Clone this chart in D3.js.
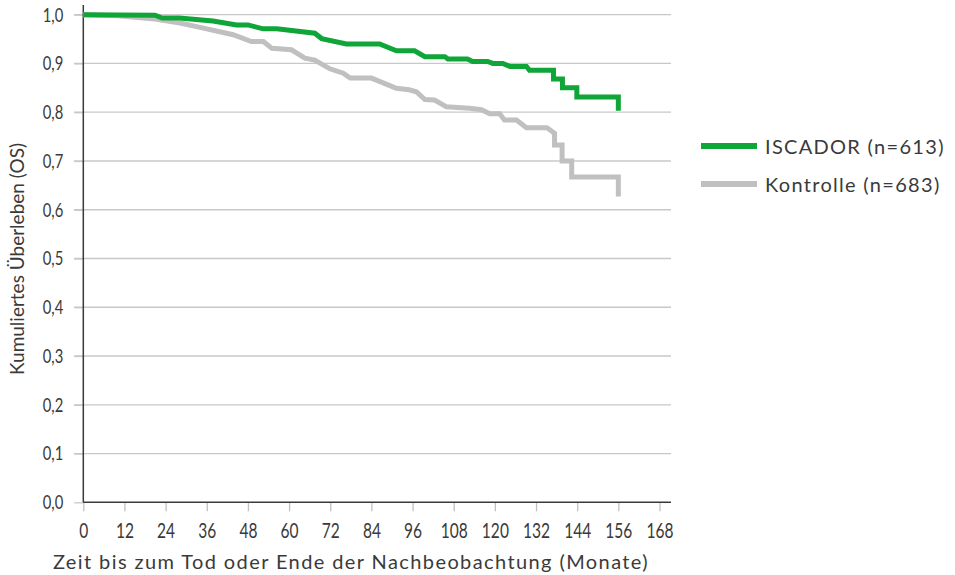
<!DOCTYPE html>
<html>
<head>
<meta charset="utf-8">
<script src="https://cdn.jsdelivr.net/npm/d3@7"></script>
<style>
  body { margin: 0; background: #fff; }
  svg { display: block; }
</style>
</head>
<body>
<script>
// Kaplan-Meier curves: [month, cumulative survival]
const iscador = [
  [0, 1.0], [20.9, 0.999], [23, 0.993], [28, 0.993], [37.8, 0.987], [44.7, 0.979],
  [48, 0.979], [52.4, 0.971], [56.4, 0.971], [67.5, 0.962], [69.5, 0.951], [76.7, 0.940],
  [86.4, 0.940], [91.3, 0.926], [96.6, 0.926], [99.6, 0.914], [105.4, 0.914], [106.3, 0.909],
  [112, 0.909], [113.5, 0.904], [117.9, 0.904], [119.4, 0.900], [122.3, 0.900], [124.4, 0.894],
  [129.2, 0.894], [130.1, 0.886], [137.1, 0.886], [137.1, 0.868], [139.7, 0.868], [139.7, 0.850],
  [143.9, 0.850], [143.9, 0.831], [156, 0.831], [156, 0.803]
];
const kontrolle = [
  [0, 1.0], [10, 0.998], [20.9, 0.991], [28.2, 0.983], [34, 0.974], [43.7, 0.959],
  [49, 0.945], [52.5, 0.945], [55, 0.931], [60.7, 0.928], [64.6, 0.911], [67.5, 0.907],
  [71.9, 0.889], [75.8, 0.880], [77.8, 0.870], [84, 0.870], [91.3, 0.849], [95, 0.846],
  [97.1, 0.842], [99.6, 0.826], [102.4, 0.825], [105.9, 0.811], [112.6, 0.808], [116.1, 0.805],
  [118.5, 0.797], [121.4, 0.797], [122.8, 0.784], [126.3, 0.784], [129.2, 0.768], [135.2, 0.768],
  [137.4, 0.757], [137.4, 0.733], [139.6, 0.733], [139.6, 0.700], [142.4, 0.700], [142.4, 0.667],
  [156, 0.667], [156, 0.627]
];
const seriesNames = ["ISCADOR (n=613)", "Kontrolle (n=683)"];
const xTicks = d3.range(0, 169, 12);
const yTicks = d3.range(0, 11).map(i => i / 10);

const width = 955, height = 575;
const svg = d3.select("body").append("svg")
  .attr("width", width)
  .attr("height", height);

const x = d3.scaleLinear().domain([0, 168]).range([83.3, 659.5]);
const y = d3.scaleLinear().domain([0, 1]).range([502.3, 14.7]);
const color = d3.scaleOrdinal().domain(seriesNames).range(["#10a538", "#c0c0c0"]);

const tickFont = "Lato, sans-serif";
const textFont = "Lato, 'Noto Sans', sans-serif";
const squeeze = 0.74; // tick numbers are set in a condensed face

// horizontal grid lines (they also act as the y ticks)
svg.append("g")
  .selectAll("line")
  .data(yTicks.slice(1))
  .join("line")
  .attr("x1", 74).attr("x2", 671)
  .attr("y1", d => y(d)).attr("y2", d => y(d))
  .attr("stroke", "#c8c8c8")
  .attr("stroke-width", 1.3);

// y axis
const yAxis = svg.append("g")
  .attr("transform", `translate(${x(0)},0)`)
  .call(d3.axisLeft(y).tickValues(yTicks).tickFormat(d => d3.format(".1f")(d).replace(".", ","))
    .tickSize(9).tickPadding(11));
yAxis.select(".domain").remove();
yAxis.selectAll(".tick line").attr("stroke", "#c8c8c8").attr("stroke-width", 1.3);
yAxis.selectAll("text")
  .attr("font-family", tickFont).attr("font-size", 20).attr("fill", "#3a3a3a")
  .attr("x", -20 / squeeze)
  .attr("transform", `scale(${squeeze},1)`);
svg.append("line")
  .attr("x1", x(0)).attr("x2", x(0)).attr("y1", 5).attr("y2", y(0))
  .attr("stroke", "#3a3a3a").attr("stroke-width", 1.5);

// x axis
const xAxis = svg.append("g")
  .attr("transform", `translate(0,${y(0)})`)
  .call(d3.axisBottom(x).tickValues(xTicks).tickSize(9).tickPadding(12));
xAxis.select(".domain").remove();
xAxis.selectAll(".tick line").attr("stroke", "#c0c0c0").attr("stroke-width", 1.3);
xAxis.selectAll("text")
  .attr("font-family", tickFont).attr("font-size", 21).attr("fill", "#3a3a3a")
  .attr("transform", `scale(${squeeze},1)`);
svg.append("line")
  .attr("x1", x(0)).attr("x2", 671).attr("y1", y(0)).attr("y2", y(0))
  .attr("stroke", "#3a3a3a").attr("stroke-width", 1.5);

// curves
const line = d3.line().x(d => x(d[0])).y(d => y(d[1]));
svg.append("path")
  .datum(kontrolle)
  .attr("d", line)
  .attr("fill", "none")
  .attr("stroke", color(seriesNames[1]))
  .attr("stroke-width", 5);
svg.append("path")
  .datum(iscador)
  .attr("d", line)
  .attr("fill", "none")
  .attr("stroke", color(seriesNames[0]))
  .attr("stroke-width", 5);

// axis titles
svg.append("text")
  .attr("x", 351).attr("y", 569)
  .attr("text-anchor", "middle")
  .attr("font-family", textFont).attr("font-size", 20).attr("fill", "#3a3a3a")
  .attr("letter-spacing", 1.4)
  .text("Zeit bis zum Tod oder Ende der Nachbeobachtung (Monate)");
svg.append("text")
  .attr("transform", "translate(24,259) rotate(-90)")
  .attr("text-anchor", "middle")
  .attr("font-family", textFont).attr("font-size", 19).attr("fill", "#3a3a3a")
  .text("Kumuliertes Überleben (OS)");

// legend
const legend = svg.append("g").attr("transform", "translate(701,146)");
const legendItem = legend.selectAll(".legend-item")
  .data(seriesNames)
  .join("g")
  .attr("class", "legend-item")
  .attr("transform", (d, i) => `translate(0,${i * 38})`);
legendItem.append("line")
  .attr("x1", 0).attr("x2", 56)
  .attr("stroke", d => color(d))
  .attr("stroke-width", 6);
legendItem.append("text")
  .attr("x", 64).attr("y", 8)
  .attr("font-family", textFont).attr("font-size", 20).attr("fill", "#3a3a3a")
  .attr("letter-spacing", 1.3)
  .text(d => d);
</script>
</body>
</html>
